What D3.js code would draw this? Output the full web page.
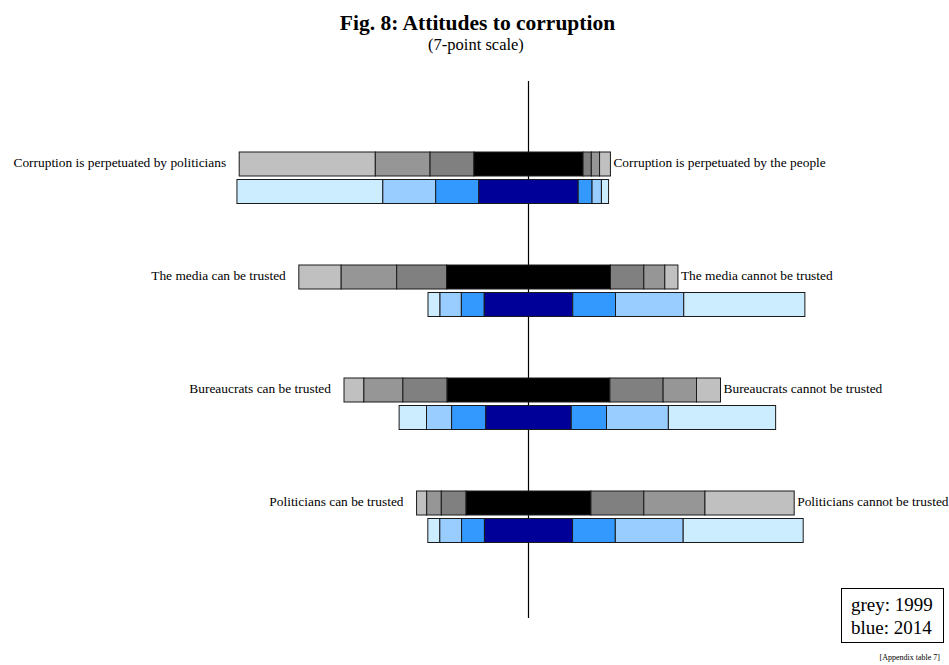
<!DOCTYPE html>
<html>
<head>
<meta charset="utf-8">
<script src="https://cdn.jsdelivr.net/npm/d3@7"></script>
<style>
  body { margin: 0; background: #fff; }
  svg { display: block; font-family: "Liberation Serif", "Times New Roman", serif; }
</style>
</head>
<body>
<svg id="chart" width="949" height="665"></svg>
<script>
// ---- Data (percent shares on a 7-point scale, 1 = left statement ... 7 = right statement)
const leftLabels = [
  "Corruption is perpetuated by politicians",
  "The media can be trusted",
  "Bureaucrats can be trusted",
  "Politicians can be trusted"
];
const rightLabels = [
  "Corruption is perpetuated by the people",
  "The media cannot be trusted",
  "Bureaucrats cannot be trusted",
  "Politicians cannot be trusted"
];
const values1999 = [
  [36.3, 14.6, 11.7, 29.1, 2.2, 2.2, 2.9],
  [11.3, 14.8, 13.3, 43.7, 8.9, 5.6, 3.5],
  [5.3, 10.4, 11.8, 43.4, 14.2, 8.9, 6.4],
  [2.7, 3.9, 6.6, 33.3, 14.1, 16.3, 23.8]
];
const values2014 = [
  [38.9, 14.1, 11.5, 26.5, 3.7, 2.5, 1.9],
  [3.2, 5.7, 6.1, 23.6, 11.4, 18.2, 32.3],
  [7.3, 6.7, 9.1, 22.8, 9.4, 16.5, 28.6],
  [3.2, 5.8, 6.1, 23.5, 11.4, 18.1, 32.0]
];
const greyColors = ["#c0c0c0", "#969696", "#808080", "#000000", "#808080", "#969696", "#c0c0c0"];
const blueColors = ["#ccecff", "#99ccff", "#3399ff", "#000099", "#3399ff", "#99ccff", "#ccecff"];
const years = ["1999", "2014"];

const svg = d3.select("#chart");

const cx = 528.5;
const x = d3.scaleLinear().domain([-50, 50]).range([cx - 187.5, cx + 187.5]);
const yGroup = d3.scalePoint().domain(d3.range(leftLabels.length)).range([152, 491]);
const barH = 24;
const rowStep = 27.5;

// Title
svg.append("text").attr("x", 477.5).attr("y", 30).attr("text-anchor", "middle")
  .attr("font-size", 21.5).attr("font-weight", "bold").text("Fig. 8: Attitudes to corruption");
svg.append("text").attr("x", 476).attr("y", 50).attr("text-anchor", "middle")
  .attr("font-size", 16.5).text("(7-point scale)");

// Centre axis line
svg.append("line").attr("x1", cx).attr("x2", cx).attr("y1", 81).attr("y2", 618)
  .attr("stroke", "#000").attr("stroke-width", 1.2);

function segments(vals) {
  const start = -vals[3] / 2 - vals[0] - vals[1] - vals[2];
  let acc = start;
  return vals.map((v, i) => { const s = { i, x0: acc, x1: acc + v }; acc += v; return s; });
}

leftLabels.forEach((lab, g) => {
  const gy = yGroup(g);
  [values1999[g], values2014[g]].forEach((vals, r) => {
    const segs = segments(vals);
    const cols = r === 0 ? greyColors : blueColors;
    svg.append("g").selectAll("rect").data(segs).join("rect")
      .attr("x", d => x(d.x0)).attr("y", gy + r * rowStep)
      .attr("width", d => x(d.x1) - x(d.x0)).attr("height", barH)
      .attr("fill", d => cols[d.i]).attr("stroke", "#1a1a1a").attr("stroke-width", 1);
  });
  const s99 = segments(values1999[g]);
  svg.append("text").attr("x", x(s99[0].x0) - 13).attr("y", gy + 15)
    .attr("text-anchor", "end").attr("font-size", 13.4).text(lab);
  svg.append("text").attr("x", x(s99[6].x1) + 3).attr("y", gy + 15)
    .attr("text-anchor", "start").attr("font-size", 13.4).text(rightLabels[g]);
});

// Legend box
svg.append("rect").attr("x", 841.5).attr("y", 588.5).attr("width", 102).attr("height", 54)
  .attr("fill", "#fff").attr("stroke", "#000").attr("stroke-width", 1);
svg.append("text").attr("x", 851).attr("y", 611).attr("font-size", 19).text("grey: " + years[0]);
svg.append("text").attr("x", 851).attr("y", 634).attr("font-size", 19).text("blue: " + years[1]);

svg.append("text").attr("x", 940).attr("y", 660).attr("text-anchor", "end")
  .attr("font-size", 8).text("[Appendix table 7]");
</script>
</body>
</html>
